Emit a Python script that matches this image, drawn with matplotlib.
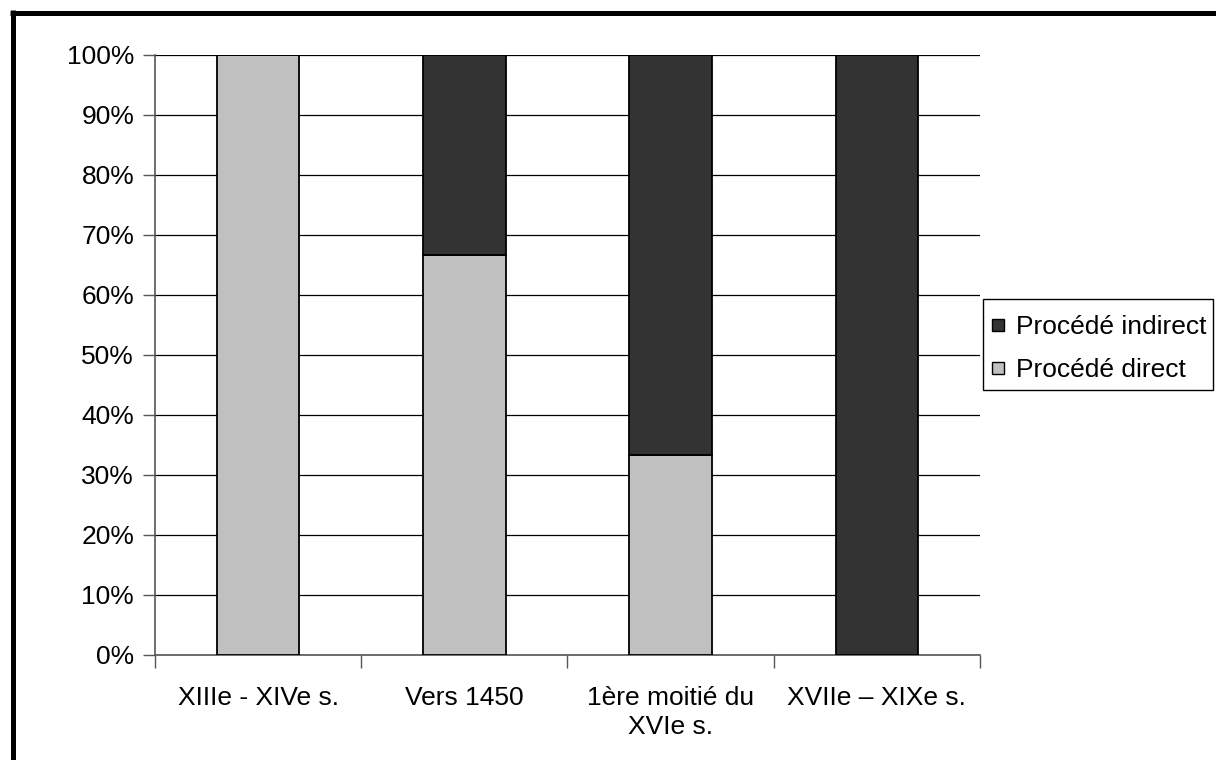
import matplotlib
matplotlib.use("Agg")
import matplotlib.pyplot as plt
from matplotlib.lines import Line2D
from matplotlib.patches import Rectangle
import numpy as np

categories = ["XIIIe - XIVe s.", "Vers 1450", "1ère moitié du\nXVIe s.", "XVIIe – XIXe s."]
direct = [100.0, 66.67, 33.33, 0.0]
indirect = [0.0, 33.33, 66.67, 100.0]
labels = ["Procédé indirect", "Procédé direct"]
c_direct = "#c0c0c0"
c_indirect = "#333333"

plt.rcParams['font.family'] = ['Liberation Sans', 'DejaVu Sans']
fs = 19

fig = plt.figure(figsize=(12.16, 7.6), dpi=100)
W, H = 1216.0, 760.0
ax = fig.add_axes([155/W, 1-655/H, (980-155)/W, 600/H])

x = np.arange(len(categories))
ax.bar(x, direct, width=0.4, color=c_direct, edgecolor='black', linewidth=1.3, zorder=3)
ax.bar(x, indirect, width=0.4, bottom=direct, color=c_indirect, edgecolor='black', linewidth=1.3, zorder=3)

ax.set_xlim(-0.5, len(categories)-0.5)
ax.set_ylim(0, 100)
ax.set_yticks(np.arange(0, 101, 10))
ax.set_yticklabels([f"{v}%" for v in range(0, 101, 10)], fontsize=fs)
ax.yaxis.grid(True, color='black', linewidth=0.9, zorder=0)
ax.set_axisbelow(True)

# category ticks at boundaries, labels centered
ax.set_xticks(np.arange(-0.5, len(categories), 1.0))
ax.set_xticklabels([])
ax.set_xticks(x, minor=True)
ax.set_xticklabels(categories, minor=True, fontsize=fs, linespacing=1.3)
ax.tick_params(axis='x', which='minor', length=0, pad=22)
ax.tick_params(axis='x', which='major', length=9, width=1, color='#555555')
ax.tick_params(axis='y', length=9, width=1, color='#555555', pad=6)

for s in ['top', 'right']:
    ax.spines[s].set_visible(False)
for s in ['left', 'bottom']:
    ax.spines[s].set_color('#555555')
    ax.spines[s].set_linewidth(1.2)

handles = [Line2D([], [], linestyle='none', marker='s', markersize=8.5,
                  markerfacecolor=c_indirect, markeredgecolor='black', markeredgewidth=1),
           Line2D([], [], linestyle='none', marker='s', markersize=8.5,
                  markerfacecolor=c_direct, markeredgecolor='black', markeredgewidth=1)]
leg = fig.legend(handles, labels, loc='upper left', bbox_to_anchor=(991/W, 1-315/H),
                 fontsize=fs, frameon=False,
                 handlelength=0.55, handletextpad=0.4, borderpad=0,
                 labelspacing=0.72, borderaxespad=0)
# legend frame
fig.add_artist(Rectangle((983/W, 1-390/H), 230/W, 91/H, transform=fig.transFigure,
                         facecolor='none', edgecolor='black', linewidth=1.0))

# outer frame (top and left edges visible)
fig.add_artist(Line2D([10/W, 1.0], [1-12.5/H, 1-12.5/H], color='black', linewidth=3.6,
                      transform=fig.transFigure, solid_capstyle='butt'))
fig.add_artist(Line2D([12.5/W, 12.5/W], [0, 1-10/H], color='black', linewidth=3.6,
                      transform=fig.transFigure, solid_capstyle='butt'))

fig.savefig("out.png", dpi=100)
